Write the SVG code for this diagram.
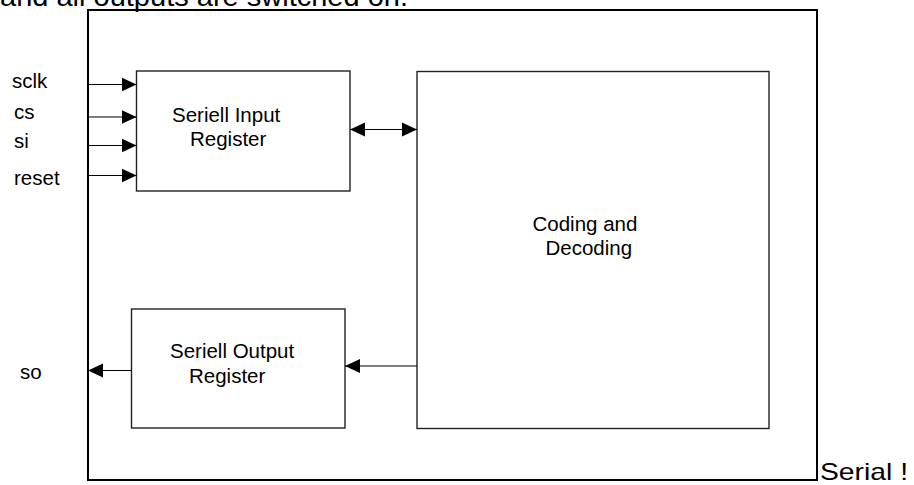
<svg xmlns="http://www.w3.org/2000/svg" width="914" height="485" viewBox="0 0 914 485">
<style>
text{font-family:"Liberation Sans",Arial,sans-serif;fill:#000}
.lbl{font-size:20.5px}
.big{font-size:28px}
.box{fill:#fff;stroke:#222;stroke-width:1.4}
.frame{fill:none;stroke:#000;stroke-width:2}
.wire{stroke:#000;stroke-width:1.2;fill:none}
</style>
<defs>
<marker id="ah" markerUnits="userSpaceOnUse" markerWidth="16" markerHeight="16" viewBox="0 0 16 16" refX="15" refY="8" orient="auto-start-reverse">
<path d="M0,1 L15,8 L0,15 Z" fill="#000"/>
</marker>
</defs>
<text class="big" x="0" y="6" textLength="408" lengthAdjust="spacingAndGlyphs">and all outputs are switched on.</text>
<g id="frame">
<rect class="frame" x="88" y="10" width="729" height="470"/>
</g>
<text class="big" x="820" y="480" style="font-size:24px" textLength="88" lengthAdjust="spacingAndGlyphs">Serial !</text>
<g id="input-register">
<rect class="box" x="136.5" y="71" width="213.5" height="120"/>
<text class="lbl" x="172" y="121.5">Seriell Input</text>
<text class="lbl" x="190" y="145.5">Register</text>
</g>
<g id="output-register">
<rect class="box" x="131.5" y="309" width="213.5" height="119"/>
<text class="lbl" x="170" y="358">Seriell Output</text>
<text class="lbl" x="189" y="383">Register</text>
</g>
<g id="coding-decoding">
<rect class="box" x="417" y="71.5" width="352" height="357"/>
<text class="lbl" x="532.5" y="231">Coding and</text>
<text class="lbl" x="545.5" y="255">Decoding</text>
</g>
<g id="signal-labels">
<text class="lbl" x="12" y="88">sclk</text>
<text class="lbl" x="14" y="119">cs</text>
<text class="lbl" x="14" y="148">si</text>
<text class="lbl" x="14" y="185">reset</text>
<text class="lbl" x="20" y="379">so</text>
</g>
<g id="connectors">
<line class="wire" x1="88" y1="84.5" x2="136.5" y2="84.5" marker-end="url(#ah)"/>
<line class="wire" x1="88" y1="117" x2="136.5" y2="117" marker-end="url(#ah)"/>
<line class="wire" x1="88" y1="145.5" x2="136.5" y2="145.5" marker-end="url(#ah)"/>
<line class="wire" x1="88" y1="175.5" x2="136.5" y2="175.5" marker-end="url(#ah)"/>
<line class="wire" x1="350" y1="129.5" x2="417" y2="129.5" marker-start="url(#ah)" marker-end="url(#ah)"/>
<line class="wire" x1="417" y1="366" x2="345" y2="366" marker-end="url(#ah)"/>
<line class="wire" x1="131.5" y1="370.5" x2="88" y2="370.5" marker-end="url(#ah)"/>
</g>
</svg>
